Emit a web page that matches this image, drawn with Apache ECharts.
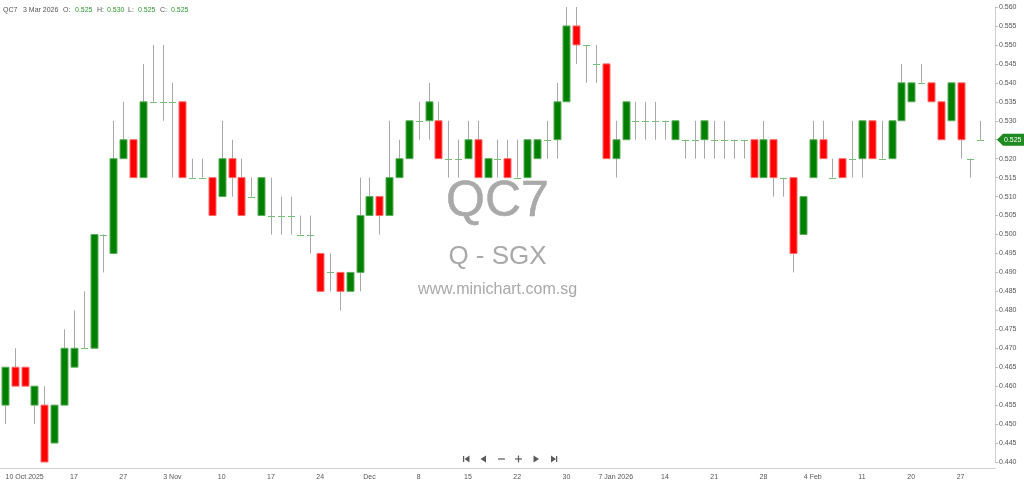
<!DOCTYPE html>
<html><head><meta charset="utf-8">
<script src="https://cdn.jsdelivr.net/npm/echarts@6/dist/echarts.min.js"></script>
<style>html,body{margin:0;padding:0;background:#fff}#c{width:1024px;height:484px}</style>
</head><body><div id="c"></div>
<script>
const symbol = 'QC7';
const exchange = 'Q - SGX';
const site = 'www.minichart.com.sg';
const lastLabel = '3 Mar 2026';

const dates = ['2025-10-08','2025-10-09','2025-10-10','2025-10-13','2025-10-14','2025-10-15','2025-10-16','2025-10-17','2025-10-21','2025-10-22',
'2025-10-23','2025-10-24','2025-10-27','2025-10-28','2025-10-29','2025-10-30','2025-10-31','2025-11-03','2025-11-04','2025-11-05',
'2025-11-06','2025-11-07','2025-11-10','2025-11-11','2025-11-12','2025-11-13','2025-11-14','2025-11-17','2025-11-18','2025-11-19',
'2025-11-20','2025-11-21','2025-11-24','2025-11-25','2025-11-26','2025-11-27','2025-11-28','2025-12-01','2025-12-02','2025-12-03',
'2025-12-04','2025-12-05','2025-12-08','2025-12-09','2025-12-10','2025-12-11','2025-12-12','2025-12-15','2025-12-16','2025-12-17',
'2025-12-18','2025-12-19','2025-12-22','2025-12-23','2025-12-24','2025-12-26','2025-12-29','2025-12-30','2025-12-31','2026-01-02',
'2026-01-05','2026-01-06','2026-01-07','2026-01-08','2026-01-09','2026-01-12','2026-01-13','2026-01-14','2026-01-15','2026-01-16',
'2026-01-19','2026-01-20','2026-01-21','2026-01-22','2026-01-23','2026-01-26','2026-01-27','2026-01-28','2026-01-29','2026-01-30',
'2026-02-02','2026-02-03','2026-02-04','2026-02-05','2026-02-06','2026-02-09','2026-02-10','2026-02-11','2026-02-12','2026-02-13',
'2026-02-16','2026-02-19','2026-02-20','2026-02-23','2026-02-24','2026-02-25','2026-02-26','2026-02-27','2026-03-02','2026-03-03'];

const open = [0.455,0.465,0.465,0.455,0.455,0.445,0.455,0.465,0.470,0.470,
0.500,0.495,0.520,0.525,0.515,0.535,0.535,0.535,0.535,0.515,
0.515,0.515,0.510,0.520,0.515,0.510,0.505,0.505,0.505,0.505,
0.500,0.500,0.495,0.490,0.490,0.485,0.490,0.505,0.510,0.505,
0.515,0.520,0.530,0.530,0.530,0.520,0.520,0.520,0.525,0.515,
0.520,0.520,0.515,0.515,0.520,0.525,0.525,0.535,0.555,0.550,
0.545,0.545,0.520,0.525,0.530,0.530,0.530,0.530,0.525,0.525,
0.525,0.525,0.525,0.525,0.525,0.525,0.525,0.515,0.525,0.515,
0.515,0.500,0.515,0.525,0.515,0.520,0.520,0.520,0.530,0.520,
0.520,0.530,0.535,0.540,0.540,0.535,0.530,0.540,0.520,0.525];

const high = [0.465,0.470,0.465,0.460,0.460,0.455,0.475,0.480,0.485,0.500,
0.500,0.530,0.535,0.525,0.545,0.550,0.550,0.540,0.535,0.520,
0.520,0.515,0.530,0.525,0.520,0.515,0.515,0.515,0.510,0.510,
0.505,0.505,0.495,0.495,0.490,0.490,0.515,0.515,0.510,0.530,
0.525,0.530,0.535,0.540,0.535,0.530,0.525,0.530,0.530,0.520,
0.525,0.525,0.525,0.525,0.525,0.530,0.540,0.560,0.560,0.550,
0.550,0.545,0.530,0.535,0.535,0.535,0.535,0.530,0.530,0.525,
0.530,0.530,0.530,0.530,0.525,0.525,0.525,0.530,0.525,0.515,
0.515,0.510,0.530,0.530,0.520,0.520,0.530,0.530,0.530,0.530,
0.530,0.545,0.540,0.545,0.540,0.535,0.540,0.540,0.520,0.530];

const low = [0.450,0.460,0.460,0.450,0.440,0.445,0.455,0.465,0.470,0.470,
0.490,0.495,0.520,0.515,0.515,0.535,0.530,0.515,0.515,0.515,
0.515,0.505,0.510,0.510,0.505,0.510,0.505,0.500,0.500,0.500,
0.500,0.495,0.485,0.485,0.480,0.485,0.485,0.505,0.500,0.505,
0.515,0.520,0.525,0.525,0.520,0.515,0.515,0.520,0.515,0.515,
0.515,0.515,0.515,0.515,0.520,0.520,0.520,0.535,0.545,0.540,
0.540,0.520,0.515,0.525,0.525,0.525,0.525,0.525,0.525,0.520,
0.520,0.520,0.520,0.520,0.520,0.520,0.515,0.515,0.510,0.510,
0.490,0.500,0.515,0.520,0.515,0.515,0.515,0.515,0.520,0.520,
0.520,0.530,0.535,0.540,0.535,0.525,0.530,0.520,0.515,0.525];

const close = [0.465,0.460,0.460,0.460,0.440,0.455,0.470,0.470,0.470,0.500,
0.500,0.520,0.525,0.515,0.535,0.535,0.535,0.535,0.515,0.515,
0.515,0.505,0.520,0.515,0.505,0.510,0.515,0.505,0.505,0.505,
0.500,0.500,0.485,0.490,0.485,0.490,0.505,0.510,0.505,0.515,
0.520,0.530,0.530,0.535,0.520,0.520,0.520,0.525,0.515,0.520,
0.520,0.515,0.515,0.525,0.525,0.525,0.535,0.555,0.550,0.550,
0.545,0.520,0.525,0.535,0.530,0.530,0.530,0.530,0.530,0.525,
0.525,0.530,0.525,0.525,0.525,0.525,0.515,0.525,0.515,0.515,
0.495,0.510,0.525,0.520,0.515,0.515,0.520,0.530,0.520,0.520,
0.530,0.540,0.540,0.540,0.535,0.525,0.540,0.525,0.520,0.525];

const tickDates = ['2025-10-10','2025-10-17','2025-10-27','2025-11-03','2025-11-10','2025-11-17','2025-11-24','2025-12-01','2025-12-08','2025-12-15',
'2025-12-22','2025-12-30','2026-01-07','2026-01-14','2026-01-21','2026-01-28','2026-02-04','2026-02-11','2026-02-20','2026-02-27'];
const tickTexts = ['10 Oct 2025','17','27','3 Nov','10','17','24','Dec','8','15','22','30','7 Jan 2026','14','21','28','4 Feb','11','20','27'];

const yMin = 0.440, yMax = 0.560, yStep = 0.005;

const FONT = '"Liberation Sans", Arial, sans-serif';
const FS = 7;
const categories = dates.concat(['']);
const seriesData = dates.map((d, i) => [i, open[i], close[i], low[i], high[i]]);
const isTick = (idx, v) => tickDates.indexOf(v) >= 0;

function renderItem(params, api) {
  const i = api.value(0), o = api.value(1), c = api.value(2), l = api.value(3), h = api.value(4);
  const po = api.coord([i, o]);
  const yc = api.coord([i, c])[1], yl = api.coord([i, l])[1], yh = api.coord([i, h])[1];
  const w = Math.round(api.size([1, 0])[0] * 0.7);
  const cx = Math.round(po[0]) + 0.5;
  const children = [{
    type: 'line', shape: { x1: cx, y1: yh, x2: cx, y2: yl },
    style: { stroke: '#a8a8a8', lineWidth: 1 }
  }];
  if (c === o) {
    const yy = Math.round(yc) + 0.5;
    children.push({ type: 'line', shape: { x1: cx - w / 2, y1: yy, x2: cx + w / 2, y2: yy },
      style: { stroke: '#74c074', lineWidth: 1 } });
  } else {
    const up = c > o;
    const top = Math.min(po[1], yc), bot = Math.max(po[1], yc);
    children.push({ type: 'rect', shape: { x: cx - w / 2, y: top, width: w, height: bot - top },
      style: { fill: up ? '#008000' : '#ff0000', stroke: up ? '#5cae5c' : '#ff6a6a', lineWidth: 1 } });
  }
  return { type: 'group', children };
}

const chart = echarts.init(document.getElementById('c'), null, { renderer: 'canvas' });
const gridRight = 29, gridLeft = 0;
const W = 1024;
const last = dates.length - 1;
const fmt = v => v.toFixed(3);

chart.setOption({
  animation: false,
  backgroundColor: '#fff',
  grid: { left: gridLeft, right: gridRight, top: 7, bottom: 22, containLabel: false },
  xAxis: {
    type: 'category', data: categories, boundaryGap: true, offset: 6,
    axisLine: { lineStyle: { color: '#cfcfcf' } },
    axisTick: { alignWithLabel: true, interval: isTick, length: 3, lineStyle: { color: '#bdbdbd' } },
    axisLabel: { interval: isTick, formatter: v => tickTexts[tickDates.indexOf(v)] || '',
      color: '#555', fontSize: FS, margin: 6, fontFamily: FONT },
    splitLine: { show: false }
  },
  yAxis: {
    type: 'value', position: 'right', min: yMin, max: yMax, interval: yStep, scale: true,
    axisLine: { show: true, lineStyle: { color: '#cfcfcf' } },
    axisTick: { show: true, length: 3, lineStyle: { color: '#bdbdbd' } },
    axisLabel: { formatter: v => v.toFixed(3), color: '#555', fontSize: FS, margin: 4, fontFamily: FONT },
    splitLine: { show: false }
  },
  series: [{
    type: 'custom', renderItem, data: seriesData, z: 5,
    encode: { x: 0, y: [1, 2, 3, 4] }
  }]
});

const plotCx = (W - gridRight + gridLeft) / 2;
const yTag = chart.convertToPixel({ yAxisIndex: 0 }, close[last]);
const axX = W - gridRight;
const navY = 459, navC = '#5a5a5a';

const headerParts = [
  [symbol, 3, '#555'], [lastLabel, 23, '#555'],
  ['O:', 63, '#555'], [fmt(open[last]), 75, '#2e9a2e'],
  ['H:', 97, '#555'], [fmt(high[last]), 107, '#2e9a2e'],
  ['L:', 128, '#555'], [fmt(low[last]), 138, '#2e9a2e'],
  ['C:', 160, '#555'], [fmt(close[last]), 171, '#2e9a2e']
];
const headerGraphics = headerParts.map(p => ({
  type: 'text', z: 10, style: { text: p[0], x: p[1], y: 10, verticalAlign: 'middle',
    font: FS + 'px ' + FONT, fill: p[2] }
}));

chart.setOption({
  graphic: [
    { type: 'text', z: 0, style: { text: symbol, x: plotCx, y: 202, align: 'center', verticalAlign: 'middle',
      font: '50px "Liberation Sans", Arial, sans-serif', fill: '#a9a9a9', stroke: '#9a9a9a', lineWidth: 0.5 } },
    { type: 'text', z: 0, style: { text: exchange, x: plotCx, y: 257, align: 'center', verticalAlign: 'middle',
      font: '26px "Liberation Sans", Arial, sans-serif', fill: '#a9a9a9' } },
    { type: 'text', z: 0, style: { text: site, x: plotCx, y: 290, align: 'center', verticalAlign: 'middle',
      font: '16px "Liberation Sans", Arial, sans-serif', fill: '#a9a9a9' } },
    ...headerGraphics,
    { type: 'polygon', z: 20, shape: { points: [[axX + 2, yTag], [axX + 8, yTag - 6], [W, yTag - 6], [W, yTag + 6], [axX + 8, yTag + 6]] },
      style: { fill: '#1f8a1f' } },
    { type: 'text', z: 21, style: { text: fmt(close[last]), x: axX + 9, y: yTag, verticalAlign: 'middle',
      font: FS + 'px ' + FONT, fill: '#fff' } },
    // navigation controls
    { type: 'rect', z: 10, shape: { x: 463, y: navY - 3, width: 1.2, height: 6 }, style: { fill: navC } },
    { type: 'polygon', z: 10, shape: { points: [[464.5, navY], [469.5, navY - 3.5], [469.5, navY + 3.5]] }, style: { fill: navC } },
    { type: 'polygon', z: 10, shape: { points: [[480.5, navY], [486, navY - 3.5], [486, navY + 3.5]] }, style: { fill: navC } },
    { type: 'rect', z: 10, shape: { x: 498, y: navY - 0.6, width: 7, height: 1.2 }, style: { fill: navC } },
    { type: 'rect', z: 10, shape: { x: 515, y: navY - 0.6, width: 7, height: 1.2 }, style: { fill: navC } },
    { type: 'rect', z: 10, shape: { x: 517.9, y: navY - 3.5, width: 1.2, height: 7 }, style: { fill: navC } },
    { type: 'polygon', z: 10, shape: { points: [[539, navY], [533.5, navY - 3.5], [533.5, navY + 3.5]] }, style: { fill: navC } },
    { type: 'polygon', z: 10, shape: { points: [[556, navY], [551, navY - 3.5], [551, navY + 3.5]] }, style: { fill: navC } },
    { type: 'rect', z: 10, shape: { x: 556, y: navY - 3, width: 1.2, height: 6 }, style: { fill: navC } }
  ]
});
</script>
</body></html>
